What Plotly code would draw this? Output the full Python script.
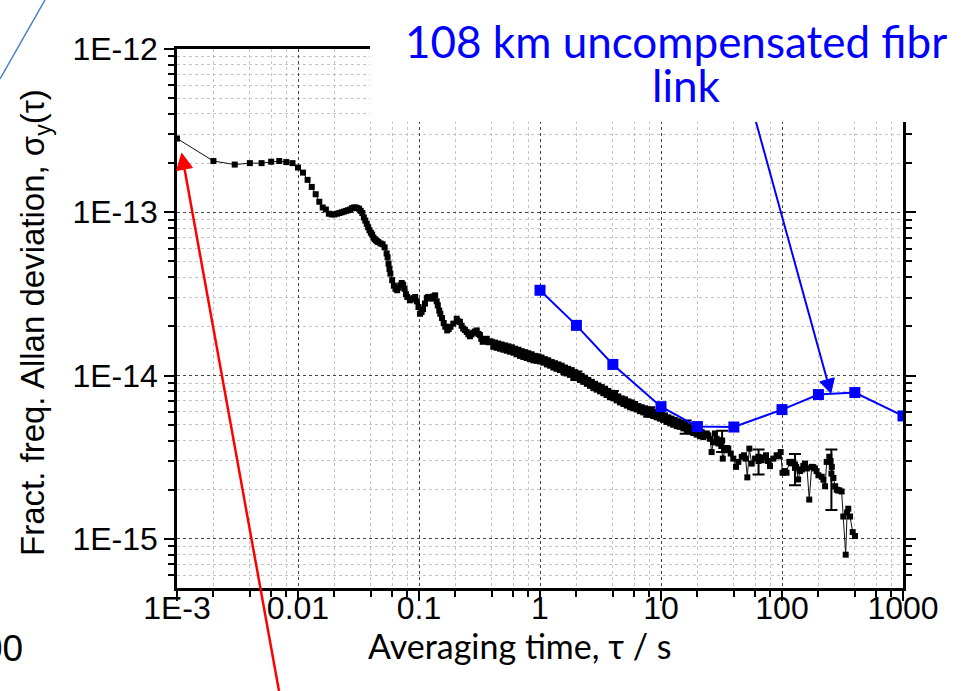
import plotly.graph_objects as go

# ---------------- data ----------------
BLACK_TAU = [
    0.001, 0.002, 0.003, 0.004, 0.005, 0.006, 0.007, 0.008, 0.009,
    0.010, 0.011, 0.012, 0.013, 0.014, 0.015, 0.016, 0.017, 0.018, 0.019,
    0.020, 0.021, 0.022, 0.023, 0.024, 0.025, 0.026, 0.027, 0.028, 0.029,
    0.030, 0.031, 0.032, 0.033, 0.034, 0.035, 0.036, 0.037, 0.038, 0.039,
    0.040, 0.041, 0.042, 0.043, 0.044, 0.045, 0.046, 0.048, 0.050, 0.052,
    0.054, 0.055, 0.056, 0.057, 0.058, 0.060, 0.062, 0.064, 0.066, 0.068,
    0.070, 0.072, 0.074, 0.076, 0.078, 0.080, 0.084, 0.087, 0.090, 0.093,
    0.096, 0.099, 0.102, 0.105, 0.108, 0.112, 0.116, 0.119, 0.123, 0.127,
    0.131, 0.136, 0.140, 0.143, 0.147, 0.150, 0.155, 0.160, 0.165, 0.171,
    0.176, 0.182, 0.192, 0.205, 0.212, 0.218, 0.225, 0.232, 0.240, 0.248,
    0.256, 0.264, 0.272, 0.281, 0.290, 0.300, 0.310, 0.319, 0.327, 0.336,
    0.349, 0.363, 0.375, 0.387,
    0.400, 0.411, 0.425, 0.438, 0.452, 0.468, 0.482, 0.498, 0.515, 0.531,
    0.548, 0.565, 0.585, 0.603, 0.622, 0.642, 0.663, 0.684, 0.706, 0.728,
    0.752, 0.777, 0.801, 0.826, 0.853, 0.881, 0.910, 0.940, 0.970, 1.000,
    1.03, 1.065, 1.10, 1.14, 1.17, 1.21, 1.25, 1.29, 1.33, 1.37,
    1.42, 1.46, 1.51, 1.56, 1.61, 1.66, 1.71, 1.77, 1.83, 1.89,
    1.95, 2.00, 2.07, 2.14, 2.21, 2.28, 2.36, 2.44, 2.51, 2.59,
    2.68, 2.76, 2.85, 2.94, 3.04, 3.14, 3.24, 3.34, 3.45, 3.55,
    3.67, 3.79, 3.91, 4.04, 4.17, 4.30, 4.44, 4.58, 4.73, 4.89,
    5.05, 5.21, 5.38, 5.55, 5.73, 5.90, 6.10, 6.30, 6.50, 6.70,
    6.92, 7.15, 7.38, 7.60, 7.85, 8.10, 8.36, 8.63, 8.90, 9.20,
    9.50, 9.80, 10.1, 10.4, 10.8, 11.1, 11.5, 11.9, 12.2, 12.6,
    13.0, 13.5, 13.9, 14.3, 14.8, 15.3, 15.8, 16.3, 16.8, 17.4,
    17.9, 18.5, 19.1, 19.7, 20.3, 21.0, 21.7, 22.4, 23.1, 23.9,
    24.6, 25.4, 26.2, 27.0, 27.9, 28.8, 29.8, 30.6, 31.5, 32.4,
    33.8, 35.0, 36.0, 37.7, 39.6, 41.7, 43.6, 46.5, 48.5, 50.0,
    51.7, 53.7, 56.2, 59.9, 63.7, 67.9, 70.5, 73.8, 76.5, 79.6,
    84.8, 90.3, 94.0, 97.5, 101, 105, 109, 115, 119, 124,
    128, 131, 136, 141, 146, 150, 155, 161, 168, 176,
    181, 187, 193, 200, 213, 220, 227, 234, 246, 252,
    258, 266, 275, 283, 290, 298, 311, 321, 336, 345,
    353, 365, 384, 401,
]
BLACK_ADEV = [
    2.83e-13, 2.06e-13, 1.96e-13, 2.00e-13, 2.00e-13, 2.04e-13, 2.06e-13, 2.03e-13, 2.00e-13,
    1.88e-13, 1.75e-13, 1.58e-13, 1.43e-13, 1.29e-13, 1.16e-13, 1.07e-13, 1.04e-13, 9.8e-14, 9.7e-14,
    9.7e-14, 9.8e-14, 9.9e-14, 1.00e-13, 1.01e-13, 1.02e-13, 1.03e-13, 1.04e-13, 1.06e-13, 1.07e-13,
    1.07e-13, 1.06e-13, 1.05e-13, 1.02e-13, 9.9e-14, 9.3e-14, 8.9e-14, 8.5e-14, 8.1e-14, 7.76e-14,
    7.5e-14, 7.3e-14, 7.0e-14, 6.85e-14, 6.74e-14, 6.65e-14, 6.58e-14, 6.45e-14, 6.37e-14, 6.1e-14,
    5.6e-14, 5.3e-14, 4.85e-14, 4.5e-14, 4.21e-14, 3.84e-14, 3.55e-14, 3.4e-14, 3.33e-14, 3.45e-14,
    3.57e-14, 3.69e-14, 3.6e-14, 3.4e-14, 3.15e-14, 3.03e-14, 2.89e-14, 2.93e-14, 2.98e-14, 3.03e-14,
    2.85e-14, 2.63e-14, 2.39e-14, 2.45e-14, 2.55e-14, 2.76e-14, 2.98e-14, 3.03e-14, 2.98e-14, 2.96e-14,
    3.05e-14, 3.1e-14, 2.85e-14, 2.69e-14, 2.5e-14, 2.39e-14, 2.25e-14, 2.1e-14, 1.99e-14, 1.89e-14,
    1.93e-14, 1.99e-14, 2.08e-14, 2.23e-14, 2.15e-14, 2.13e-14, 2.02e-14, 1.94e-14, 1.9e-14, 1.85e-14,
    1.79e-14, 1.74e-14, 1.79e-14, 1.83e-14, 1.86e-14, 1.89e-14, 1.8e-14, 1.77e-14, 1.68e-14, 1.61e-14,
    1.65e-14, 1.68e-14, 1.6e-14, 1.62e-14,
    1.61e-14, 1.50e-14, 1.59e-14, 1.48e-14, 1.57e-14, 1.46e-14, 1.55e-14, 1.44e-14, 1.53e-14, 1.42e-14,
    1.51e-14, 1.40e-14, 1.49e-14, 1.38e-14, 1.46e-14, 1.35e-14, 1.44e-14, 1.32e-14, 1.41e-14, 1.30e-14,
    1.39e-14, 1.28e-14, 1.37e-14, 1.26e-14, 1.35e-14, 1.24e-14, 1.32e-14, 1.23e-14, 1.31e-14, 1.22e-14,
    1.29e-14, 1.20e-14, 1.26e-14, 1.17e-14, 1.24e-14, 1.15e-14, 1.21e-14, 1.12e-14, 1.19e-14, 1.10e-14,
    1.17e-14, 1.08e-14, 1.15e-14, 1.05e-14, 1.12e-14, 1.03e-14, 1.10e-14, 1.01e-14, 1.08e-14, 9.8e-15,
    1.05e-14, 9.65e-15, 1.025e-14, 9.4e-15, 9.95e-15, 9.15e-15, 9.7e-15, 8.9e-15, 9.4e-15, 8.65e-15,
    9.15e-15, 8.4e-15, 8.9e-15, 8.2e-15, 8.7e-15, 8.0e-15, 8.5e-15, 7.8e-15, 8.3e-15, 7.6e-15,
    8.05e-15, 7.45e-15, 7.85e-15, 7.25e-15, 7.65e-15, 7.05e-15, 7.45e-15, 6.85e-15, 7.25e-15, 6.7e-15,
    7.15e-15, 6.55e-15, 6.95e-15, 6.4e-15, 6.85e-15, 6.3e-15, 6.7e-15, 6.2e-15, 6.5e-15, 6.05e-15,
    6.4e-15, 5.95e-15, 6.3e-15, 5.85e-15, 6.2e-15, 5.75e-15, 6.1e-15, 5.65e-15, 6.0e-15, 5.55e-15,
    5.9e-15, 5.45e-15, 5.8e-15, 5.35e-15, 5.7e-15, 5.2e-15, 5.55e-15, 5.1e-15, 5.45e-15, 5.0e-15,
    5.35e-15, 4.9e-15, 5.25e-15, 4.85e-15, 5.1e-15, 4.75e-15, 5.0e-15, 4.65e-15, 4.9e-15, 4.55e-15,
    4.8e-15, 4.45e-15, 4.7e-15, 4.35e-15, 4.6e-15, 4.25e-15, 4.5e-15, 4.2e-15, 4.35e-15, 4.42e-15,
    4.3e-15, 4.1e-15, 3.4e-15, 3.9e-15, 4.42e-15, 4.1e-15, 3.84e-15, 4.02e-15, 3.7e-15, 3.1e-15,
    3.49e-15, 3.6e-15, 3.57e-15, 3.33e-15, 3.1e-15, 2.76e-15, 2.96e-15, 3.18e-15, 3.25e-15, 3.1e-15,
    2.38e-15, 3.57e-15, 2.89e-15, 3.1e-15, 3.18e-15, 3.03e-15, 3.15e-15, 3.25e-15, 3.0e-15, 2.79e-15,
    3.1e-15, 3.25e-15, 3.2e-15, 3.4e-15, 2.54e-15, 2.6e-15, 2.54e-15, 2.96e-15, 2.9e-15, 2.96e-15,
    2.85e-15, 2.76e-15, 2.31e-15, 2.6e-15, 2.66e-15, 2.8e-15, 2.89e-15, 2.7e-15, 1.74e-15, 2.76e-15,
    2.75e-15, 2.7e-15, 2.6e-15, 2.45e-15, 2.4e-15, 2.3e-15, 2.1e-15, 2.96e-15, 3.18e-15, 3.0e-15,
    2.76e-15, 2.36e-15, 2.1e-15, 2.0e-15, 1.98e-15, 1.98e-15, 1.95e-15, 1.37e-15, 8.0e-16, 1.45e-15,
    1.53e-15, 1.37e-15, 1.10e-15, 1.04e-15,
]

ERR_TAU = [2, 4, 8, 16, 32, 64, 128, 256]
ERR_ADEV = [1.0e-14, 7.6e-15, 6.0e-15, 4.85e-15, 4.0e-15, 3.0e-15, 2.72e-15, 2.51e-15]
ERR_SIGMA = [0.6e-15, 0.45e-15, 0.4e-15, 0.45e-15, 0.6e-15, 0.52e-15, 0.59e-15, 1.01e-15]

BLUE_TAU = [1, 2, 4, 10, 20, 40, 100, 200, 400, 1000]
BLUE_ADEV = [3.33e-14, 2.03e-14, 1.17e-14, 6.45e-15, 4.87e-15, 4.84e-15,
             6.19e-15, 7.65e-15, 7.87e-15, 5.66e-15]

X_TICKS = [1e-3, 1e-2, 1e-1, 1, 10, 100, 1000]
X_TICKTEXT = ["1E-3", "0.01", "0.1", "1", "10", "100", "1000"]
X_MINOR = [2e-3, 4e-3, 6e-3, 8e-3, 2e-2, 4e-2, 6e-2, 8e-2, 0.2, 0.4, 0.6, 0.8,
           2, 4, 6, 8, 20, 40, 60, 80, 200, 400, 600, 800]
Y_TICKS = [1e-15, 1e-14, 1e-13, 1e-12]
Y_TICKTEXT = ["1E-15", "1E-14", "1E-13", "1E-12"]
Y_MINOR = [6e-16, 7e-16, 8e-16, 9e-16,
           2e-15, 3e-15, 4e-15, 5e-15, 6e-15, 7e-15, 8e-15, 9e-15,
           2e-14, 3e-14, 4e-14, 5e-14, 6e-14, 7e-14, 8e-14, 9e-14,
           2e-13, 3e-13, 4e-13, 5e-13, 6e-13, 7e-13, 8e-13, 9e-13]

X_TITLE = "Averaging time, τ / s"
Y_TITLE = "Fract. freq. Allan deviation, σ<sub>y</sub>(τ)"
LABEL_LINE1 = "108 km uncompensated fibr"
LABEL_LINE2 = "link"
CORNER_TEXT = "00"

# ---------------- figure ----------------
W, H = 966, 691
ML, MR, MT, MB = 177, 63, 49, 103
PW, PH = W - ML - MR, H - MT - MB


def px(x):
    return (x - ML) / PW


def py(y):
    return (H - MB - y) / PH


def arrow_shapes(tail, tip, head_len, half_w, color, width):
    (tx, ty), (hx, hy) = tail, tip
    dx, dy = hx - tx, hy - ty
    length = (dx * dx + dy * dy) ** 0.5
    ux, uy = dx / length, dy / length
    nx, ny = -uy, ux
    bx, by = hx - head_len * ux, hy - head_len * uy
    c1 = (bx + half_w * nx, by + half_w * ny)
    c2 = (bx - half_w * nx, by - half_w * ny)
    line = dict(type="line", xref="paper", yref="paper",
                x0=px(tx), y0=py(ty), x1=px(bx), y1=py(by),
                line=dict(color=color, width=width), layer="above")
    path = "M {} {} L {} {} L {} {} Z".format(px(hx), py(hy), px(c1[0]), py(c1[1]),
                                             px(c2[0]), py(c2[1]))
    head = dict(type="path", xref="paper", yref="paper", path=path,
                fillcolor=color, line=dict(color=color, width=1), layer="above")
    return [line, head]


fig = go.Figure()

fig.add_trace(go.Scatter(
    x=BLACK_TAU, y=BLACK_ADEV, mode="lines+markers",
    line=dict(color="#111111", width=1),
    marker=dict(symbol="square", size=6, color="black"),
    showlegend=False,
))
fig.add_trace(go.Scatter(
    x=ERR_TAU, y=ERR_ADEV, mode="markers",
    marker=dict(symbol="square", size=6, color="black"),
    error_y=dict(type="data", array=ERR_SIGMA, color="black", thickness=2, width=6),
    showlegend=False,
))
fig.add_trace(go.Scatter(
    x=BLUE_TAU, y=BLUE_ADEV, mode="lines+markers",
    line=dict(color="#0000ff", width=2),
    marker=dict(symbol="square", size=11, color="#0000ff"),
    showlegend=False,
))

tickfont = dict(family="Liberation Sans, Arial, sans-serif", size=32, color="black")

fig.update_xaxes(
    type="log", range=[-3, 3],
    tickmode="array", tickvals=X_TICKS, ticktext=X_TICKTEXT,
    ticks="outside", ticklen=10, tickwidth=2, tickcolor="black",
    tickfont=tickfont, ticklabelstandoff=-20,
    showline=True, linewidth=2.5, linecolor="black", mirror=True,
    showgrid=True, gridcolor="#444444", griddash="dot", gridwidth=1,
    minor=dict(tickmode="array", tickvals=X_MINOR, ticks="outside", ticklen=6,
               tickwidth=1.5, tickcolor="black", showgrid=True,
               gridcolor="#c4c4c4", griddash="dot", gridwidth=1),
    zeroline=False,
)
fig.update_yaxes(
    type="log", range=[-15.301, -12],
    tickmode="array", tickvals=Y_TICKS, ticktext=Y_TICKTEXT,
    ticks="outside", ticklen=10, tickwidth=2, tickcolor="black",
    tickfont=tickfont,
    showline=True, linewidth=2.5, linecolor="black", mirror="ticks",
    showgrid=True, gridcolor="#444444", griddash="dot", gridwidth=1,
    minor=dict(tickmode="array", tickvals=Y_MINOR, ticks="outside", ticklen=6,
               tickwidth=1.5, tickcolor="black", showgrid=True,
               gridcolor="#c4c4c4", griddash="dot", gridwidth=1),
    zeroline=False,
)

shapes = [
    # white box hiding the upper-right corner of the plot (slide overlay)
    dict(type="rect", xref="paper", yref="paper",
         x0=px(370), x1=px(1000), y0=py(122), y1=py(-20),
         fillcolor="white", line=dict(width=0), layer="above"),
    # thin steel-blue diagonal in the top-left corner
    dict(type="line", xref="paper", yref="paper",
         x0=px(0), y0=py(79), x1=px(45), y1=py(0),
         line=dict(color="#4a7ebb", width=1.5), layer="above"),
]
shapes += arrow_shapes((279, 691), (181.7, 153.3), 16, 8, "#ff0000", 2.5)
shapes += arrow_shapes((756, 122), (830.8, 393.3), 14, 7.5, "#0000ff", 2)

annotations = [
    dict(text=LABEL_LINE1, xref="paper", yref="paper", x=px(403), y=py(41),
         xanchor="left", yanchor="middle", showarrow=False,
         font=dict(family="Lato, sans-serif", size=44, color="#0000ff")),
    dict(text=LABEL_LINE2, xref="paper", yref="paper", x=px(686), y=py(85),
         xanchor="center", yanchor="middle", showarrow=False,
         font=dict(family="Lato, sans-serif", size=44, color="#0000ff")),
    dict(text=X_TITLE, xref="paper", yref="paper", x=px(520), y=py(645),
         xanchor="center", yanchor="middle", showarrow=False,
         font=dict(family="Lato, sans-serif", size=34, color="black")),
    dict(text=Y_TITLE, xref="paper", yref="paper", x=px(35), y=py(323),
         xanchor="center", yanchor="middle", showarrow=False, textangle=-90,
         font=dict(family="Liberation Sans, Arial, sans-serif", size=33, color="black")),
    dict(text=CORNER_TEXT, xref="paper", yref="paper", x=px(25), y=py(648),
         xanchor="right", yanchor="middle", showarrow=False,
         font=dict(family="Liberation Sans, Arial, sans-serif", size=37, color="black")),
]

fig.update_layout(
    width=W, height=H, autosize=False,
    margin=dict(l=ML, r=MR, t=MT, b=MB, pad=0),
    paper_bgcolor="white", plot_bgcolor="white",
    shapes=shapes, annotations=annotations,
    showlegend=False,
)

fig.write_html("out.html")
